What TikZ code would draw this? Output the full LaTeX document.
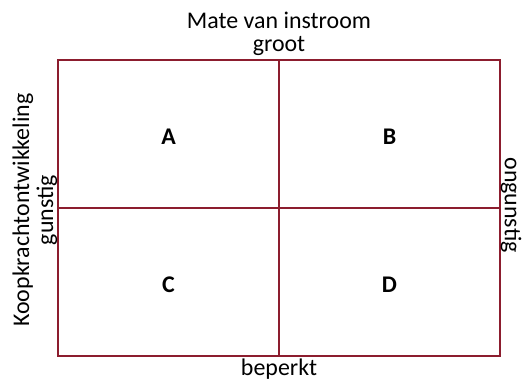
\documentclass[tikz,border=0pt]{standalone}
\usepackage{fontspec}
\setmainfont{Carlito}
\usetikzlibrary{positioning}
\definecolor{gridc}{HTML}{8C1D2E}

\begin{document}
\begin{tikzpicture}[x=1bp, y=-1bp, line width=1.6bp,
          font=\fontsize{24}{28}\selectfont,
          cell/.style={draw=gridc, minimum width=221bp, minimum height=148bp,
              inner sep=0pt, text height=21bp, text depth=0pt,
              font=\fontsize{24}{28}\selectfont\bfseries}]
        \useasboundingbox (0,0) rectangle (522,381);
        % quadrants
        \node[cell] (qa) at (168.5,134) {A};
        \node[cell] (qb) at (389.5,134) {B};
        \node[cell] (qc) at (168.5,282) {C};
        \node[cell] (qd) at (389.5,282) {D};
        % axis labels
        \node (top) at (279,20) {Mate van instroom};
        \node (groot) at (279,46) {groot};
        \node[inner sep=1pt] (beperkt) at (279,369) {beperkt};
        \node[rotate=90] (koop) at (23,210) {Koopkrachtontwikkeling};
        \node[rotate=90] (gunst) at (47,210) {gunstig};
        \node[rotate=-90, inner sep=1pt] (ongunst) at (511,205) {ongunstig};
      \end{tikzpicture}
\end{document}
